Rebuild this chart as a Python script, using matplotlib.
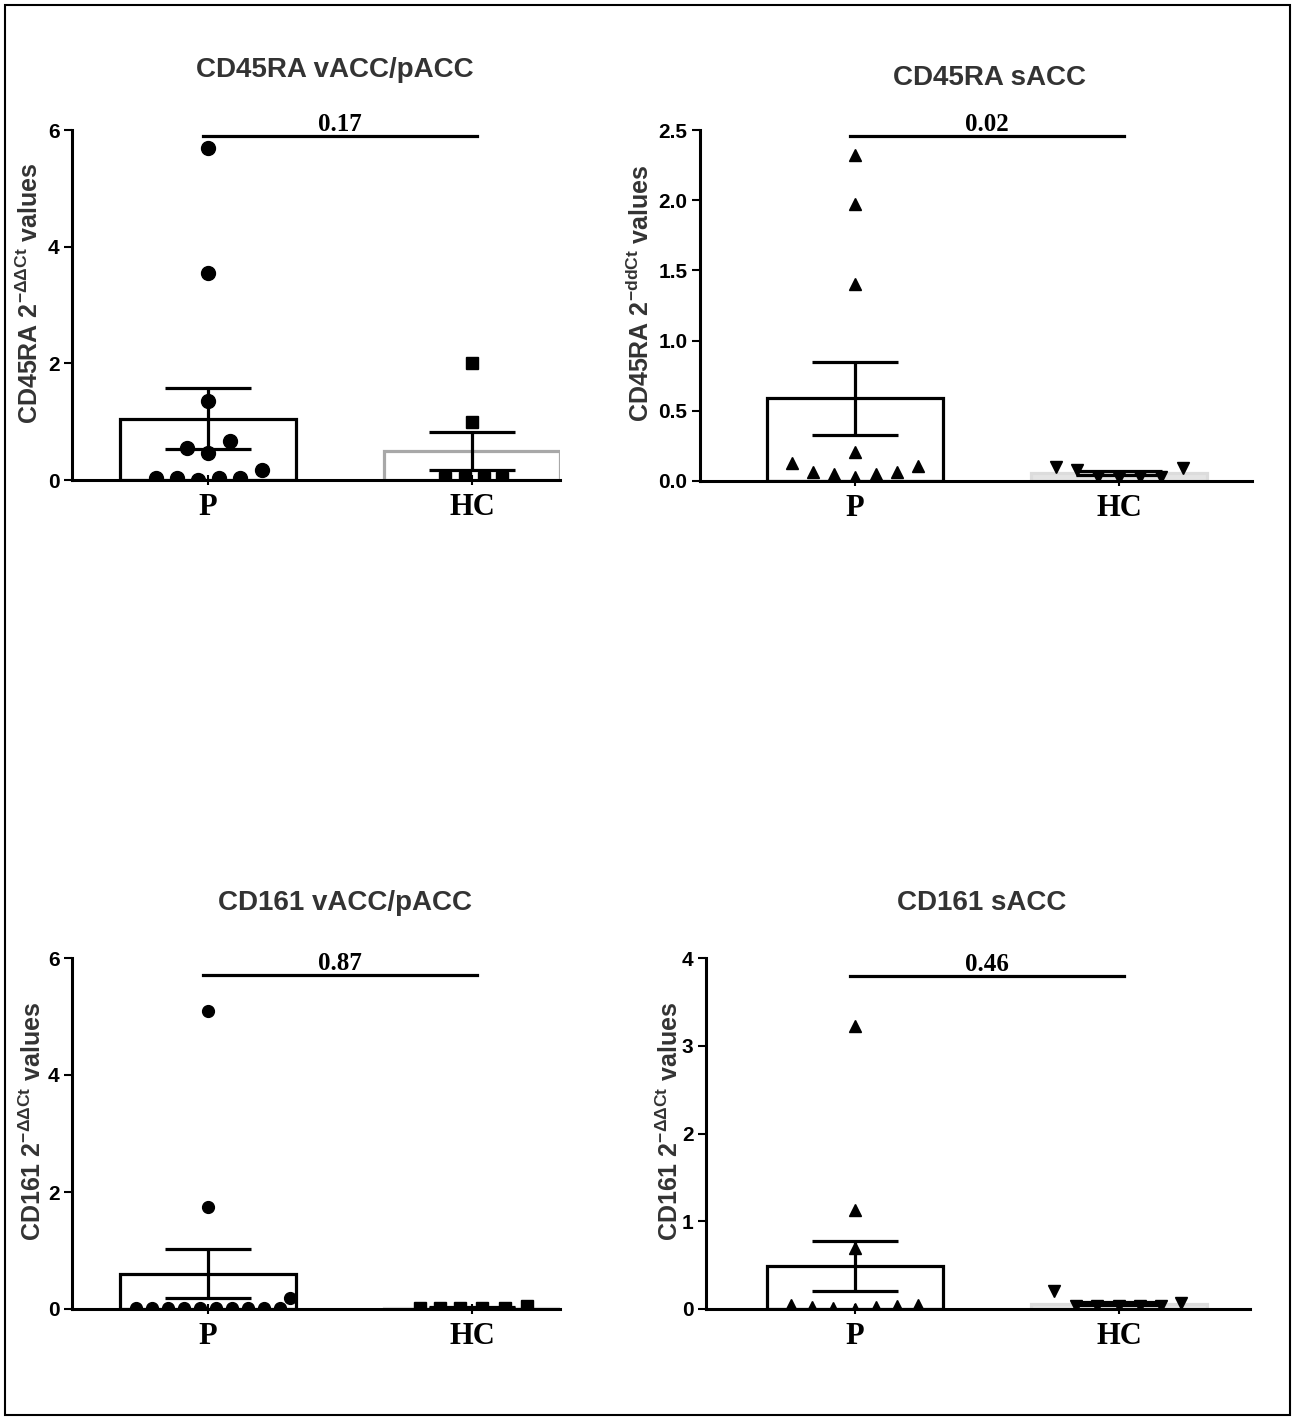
import matplotlib
matplotlib.use('Agg')
import matplotlib.pyplot as plt
from matplotlib.patches import Rectangle

plt.rcParams['font.family'] = ['Liberation Sans', 'DejaVu Sans']
plt.rcParams['mathtext.default'] = 'regular'

# %%
# valores (2^-ddCt)
grupos = ['P', 'HC']

# CD45RA vACC/pACC
p1_P = [5.7, 3.55, 1.36, 0.55, 0.46, 0.67, 0.17, 0.03, 0.03, 0.0, 0.03, 0.03]
p1_P_dx = [0, 0, 0, -21, 0, 22, 54, -52, -31, -10, 11, 32]
p1_HC = [2.0, 1.0, 0.03, 0.03, 0.03, 0.03]
p1_HC_dx = [0, 0, -27, -7, 12, 30]
p1_media = [1.05, 0.5]
p1_sem = [0.52, 0.33]

# CD45RA sACC
p2_P = [2.32, 1.97, 1.40, 0.21, 0.13, 0.065, 0.05, 0.03, 0.05, 0.065, 0.11]
p2_P_dx = [0, 0, 0, 0, -63, -42, -21, 0, 21, 42, 63]
p2_HC = [0.10, 0.08, 0.03, 0.02, 0.03, 0.03, 0.09]
p2_HC_dx = [-63, -42, -21, 0, 21, 42, 64]
p2_media = [0.59, 0.055]
p2_sem = [0.26, 0.013]

# CD161 vACC/pACC
p3_P = [5.1, 1.75, 0.19, 0.02, 0.02, 0.02, 0.02, 0.02, 0.02, 0.02, 0.02, 0.02, 0.02]
p3_P_dx = [0, 0, 82, -72, -56, -40, -24, -8, 8, 24, 40, 56, 72]
p3_HC = [0.02, 0.02, 0.02, 0.02, 0.02, 0.05]
p3_HC_dx = [-52, -32, -12, 10, 33, 55]
p3_media = [0.6, 0.025]
p3_sem = [0.42, 0.005]

# CD161 sACC
p4_P = [3.22, 1.13, 0.70, 0.05, 0.02, 0.01, 0.0, 0.02, 0.03, 0.05]
p4_P_dx = [0, 0, 0, -64, -43, -22, 0, 21, 42, 63]
p4_HC = [0.2, 0.03, 0.03, 0.03, 0.03, 0.03, 0.07]
p4_HC_dx = [-65, -43, -22, 0, 21, 42, 62]
p4_media = [0.49, 0.06]
p4_sem = [0.29, 0.02]

titulos = ['CD45RA vACC/pACC', 'CD45RA sACC', 'CD161 vACC/pACC', 'CD161 sACC']
ylabels = [r'CD45RA 2$^{-\Delta\Delta Ct}$ values', r'CD45RA 2$^{-ddCt}$ values',
           r'CD161 2$^{-\Delta\Delta Ct}$ values', r'CD161 2$^{-\Delta\Delta Ct}$ values']
pvalores = ['0.17', '0.02', '0.87', '0.46']

# %%
W, H = 1296, 1419
fig = plt.figure(figsize=(W / 100, H / 100), dpi=100)
fig.patches.append(Rectangle((5 / W, 4 / H), 1285 / W, 1410 / H, transform=fig.transFigure,
                             fill=False, edgecolor='black', linewidth=1.5))

# posicoes em pixels: esquerda, direita, y do zero, y do topo
caixas = [(72, 560, 480, 130), (700, 1252, 481, 130), (72, 560, 1309, 958), (706, 1250, 1309, 958)]
ylims = [6, 2.5, 6, 4]
yticks = [[0, 2, 4, 6], [0, 0.5, 1.0, 1.5, 2.0, 2.5], [0, 2, 4, 6], [0, 1, 2, 3, 4]]
yfmt = ['{:.0f}', '{:.1f}', '{:.0f}', '{:.0f}']
centro_px = [208, 855, 208, 855]
passo = 264.0
marcadores = [('o', 's'), ('^', 'v'), ('o', 's'), ('^', 'v')]
tam = [(10, 9), (9, 9), (8.5, 9), (9, 9)]
hc_estilo = [dict(edgecolor='#a8a8a8', facecolor='none'),
             dict(edgecolor='#dcdcdc', facecolor='#e4e4e4'),
             dict(edgecolor='#dcdcdc', facecolor='#e4e4e4'),
             dict(edgecolor='#dcdcdc', facecolor='#e4e4e4')]
barra_y = [5.9, 2.457, 5.71, 3.8]
titulo_px = [(335, 70), (990, 78), (345, 903), (982, 903)]
ylabel_x = [30, 640, 33, 670]

dados = [(p1_P, p1_P_dx, p1_HC, p1_HC_dx, p1_media, p1_sem),
         (p2_P, p2_P_dx, p2_HC, p2_HC_dx, p2_media, p2_sem),
         (p3_P, p3_P_dx, p3_HC, p3_HC_dx, p3_media, p3_sem),
         (p4_P, p4_P_dx, p4_HC, p4_HC_dx, p4_media, p4_sem)]

for i in range(4):
    x0, x1, yb, yt = caixas[i]
    ax = fig.add_axes([x0 / W, 1 - yb / H, (x1 - x0) / W, (yb - yt) / H])
    xmin = -(centro_px[i] - x0) / passo
    xmax = (x1 - centro_px[i]) / passo
    P, Pdx, HC, HCdx, media, sem = dados[i]

    ax.bar(0, media[0], width=0.667, edgecolor='black', facecolor='none', linewidth=2.3, zorder=2)
    ax.bar(1, media[1], width=0.667, linewidth=2.3, zorder=1, **hc_estilo[i])
    ax.errorbar([0, 1], media, yerr=sem, fmt='none', ecolor='black', elinewidth=2.3,
                capsize=31, capthick=2.3, zorder=3)
    ax.plot([d / passo for d in Pdx], P, linestyle='none', marker=marcadores[i][0],
            markersize=tam[i][0], color='black', zorder=4)
    ax.plot([1 + d / passo for d in HCdx], HC, linestyle='none', marker=marcadores[i][1],
            markersize=tam[i][1], color='black', zorder=4)

    # linha de comparacao e p-valor
    ax.plot([-0.02, 1.02], [barra_y[i], barra_y[i]], color='black', linewidth=2.3,
            clip_on=False, zorder=5)
    ax.text(0.5, barra_y[i], pvalores[i], ha='center', va='bottom', fontsize=18,
            fontweight='bold', family='Liberation Serif')

    ax.set_xlim(xmin, xmax)
    ax.set_ylim(0, ylims[i])
    ax.set_yticks(yticks[i])
    ax.set_yticklabels([yfmt[i].format(v) for v in yticks[i]], fontsize=15, fontweight='bold')
    ax.set_xticks([0, 1])
    ax.set_xticklabels(grupos, fontsize=22, fontweight='bold', family='Liberation Serif')
    ax.tick_params(axis='y', width=1.5, length=6, pad=3)
    ax.tick_params(axis='x', width=1.5, length=7, pad=6, direction='inout')
    for s in ['top', 'right']:
        ax.spines[s].set_visible(False)
    for s in ['left', 'bottom']:
        ax.spines[s].set_linewidth(2.2)

    tx, ty = titulo_px[i]
    fig.text(tx / W, 1 - ty / H, titulos[i], ha='center', va='center', fontsize=20,
             fontweight='bold', color='#333333')
    fig.text(ylabel_x[i] / W, 1 - ((yb + yt) / 2 - 12) / H, ylabels[i], rotation=90, ha='center',
             va='center', fontsize=18, fontweight='bold', color='#333333')

plt.savefig('out.png', dpi=100)
